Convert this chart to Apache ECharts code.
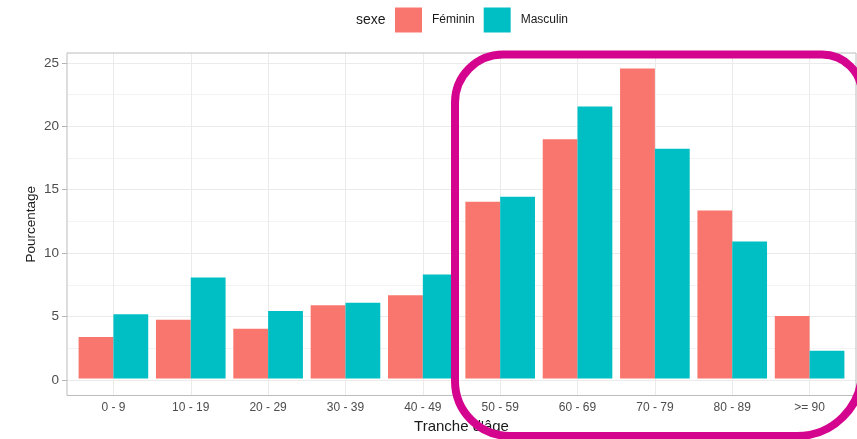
<!DOCTYPE html>
<html>
<head>
<meta charset="utf-8">
<script src="https://cdn.jsdelivr.net/npm/echarts@6/dist/echarts.min.js"></script>
<style>
    html, body { margin: 0; padding: 0; background: #fff; }
    #chart { width: 857px; height: 439px; }
</style>
</head>
<body>
<div id="chart"></div>
<script>
// données
const categories = ['0 - 9', '10 - 19', '20 - 29', '30 - 39', '40 - 49', '50 - 59', '60 - 69', '70 - 79', '80 - 89', '>= 90'];
const feminin = [3.3, 4.65, 3.95, 5.8, 6.6, 14.0, 18.95, 24.55, 13.3, 4.95];
const masculin = [5.1, 8.0, 5.35, 6.0, 8.25, 14.4, 21.55, 18.2, 10.85, 2.2];
const seriesNames = ['Féminin', 'Masculin'];
const yTickMin = 0;
const yTickMax = 25;
const yTickStep = 5;

const font = 'Liberation Sans, Arial, sans-serif';
const colors = ['#F8766D', '#00BFC4'];

// panneau façon ggplot (expansion 5% en y, 0.6 en x)
const panel = { left: 67, top: 53, width: 789, height: 342.5 };
const dataMax = Math.max(...feminin, ...masculin);
const yMin = -0.05 * dataMax;
const yMax = dataMax * 1.05;
const yUnit = panel.height / (yMax - yMin);
const xUnit = panel.width / (categories.length + 0.2);
const n = categories.length;

let chart = echarts.init(document.getElementById('chart'));

const hiddenValue = { type: 'value', show: false };

chart.setOption({
    animation: false,
    title: {
        text: 'sexe',
        left: 356,
        top: 13,
        padding: 0,
        textStyle: { fontFamily: font, fontSize: 14, fontWeight: 'normal', color: '#1a1a1a' }
    },
    legend: {
        data: seriesNames,
        left: 395,
        top: 7.5,
        padding: 0,
        icon: 'rect',
        itemWidth: 27,
        itemHeight: 25,
        itemGap: 9,
        textStyle: { fontFamily: font, fontSize: 12, color: '#1a1a1a', padding: [0, 0, 0, 5] }
    },
    grid: [
        // 0 : barres
        { left: panel.left + 0.1 * xUnit, top: panel.top, width: n * xUnit, height: panel.height },
        // 1 : graduations y + lignes horizontales
        { left: panel.left, top: panel.top + (yMax - yTickMax) * yUnit, width: panel.width, height: (yTickMax - yTickMin) * yUnit },
        // 2 : lignes verticales aux centres des catégories
        { left: panel.left + 0.6 * xUnit, top: panel.top, width: (n - 1) * xUnit, height: panel.height },
        // 3 : cadre du panneau
        { left: panel.left, top: panel.top, width: panel.width, height: panel.height, show: true, borderColor: '#bcbcbc', borderWidth: 1, backgroundColor: 'transparent', z: 5 }
    ],
    xAxis: [
        {
            gridIndex: 0,
            type: 'category',
            data: categories,
            axisLine: { show: false },
            axisTick: { alignWithLabel: true, length: 5, lineStyle: { color: '#b3b3b3' } },
            axisLabel: { margin: 8, fontFamily: font, fontSize: 12, color: '#4d4d4d' },
            splitLine: { show: false },
            name: "Tranche d'âge",
            nameLocation: 'middle',
            nameGap: 21,
            nameTextStyle: { fontFamily: font, fontSize: 15, color: '#1a1a1a' }
        },
        { gridIndex: 1, type: 'value', show: false },
        {
            gridIndex: 2,
            type: 'value',
            min: 1,
            max: n,
            interval: 1,
            axisLine: { show: false },
            axisTick: { show: false },
            axisLabel: { show: false },
            splitLine: { show: true, lineStyle: { color: '#ebebeb', width: 1 } }
        },
        { gridIndex: 3, type: 'value', show: false }
    ],
    yAxis: [
        { gridIndex: 0, type: 'value', min: yMin, max: yMax, show: false },
        {
            gridIndex: 1,
            type: 'value',
            min: yTickMin,
            max: yTickMax,
            interval: yTickStep,
            axisLine: { show: false },
            axisTick: { show: true, length: 5, lineStyle: { color: '#b3b3b3' } },
            axisLabel: { margin: 8, fontFamily: font, fontSize: 13.5, color: '#4d4d4d' },
            splitLine: { show: true, lineStyle: { color: '#ebebeb', width: 1 } },
            minorTick: { show: false, splitNumber: 2 },
            minorSplitLine: { show: true, lineStyle: { color: '#f3f3f3', width: 1 } }
        },
        {
            gridIndex: 2,
            type: 'value',
            axisLine: { show: false },
            axisTick: { show: false },
            axisLabel: { show: false },
            splitLine: { show: false },
            name: 'Pourcentage',
            nameLocation: 'middle',
            nameGap: 0.6 * xUnit + 29,
            nameTextStyle: { fontFamily: font, fontSize: 13.5, color: '#1a1a1a' }
        },
        { gridIndex: 3, type: 'value', show: false }
    ],
    series: [
        {
            name: seriesNames[0],
            type: 'bar',
            xAxisIndex: 0,
            yAxisIndex: 0,
            data: feminin,
            barWidth: 0.45 * xUnit,
            barGap: '0%',
            itemStyle: { color: colors[0] },
            z: 3
        },
        {
            name: seriesNames[1],
            type: 'bar',
            xAxisIndex: 0,
            yAxisIndex: 0,
            data: masculin,
            barWidth: 0.45 * xUnit,
            barGap: '0%',
            itemStyle: { color: colors[1] },
            z: 3
        }
    ],
    graphic: [
        {
            type: 'rect',
            z: 100,
            shape: { x: 455, y: 54.5, width: 407, height: 381.5, r: [48, 40, 65, 55] },
            style: { fill: 'none', stroke: '#d5048f', lineWidth: 8 }
        }
    ]
});
</script>
</body>
</html>
